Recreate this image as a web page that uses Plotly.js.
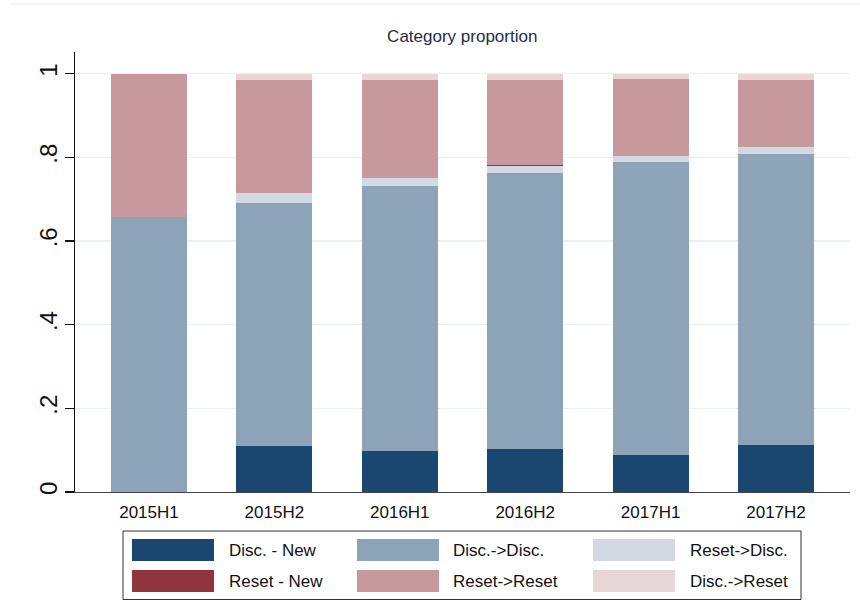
<!DOCTYPE html>
<html>
<head>
<meta charset="utf-8">
<script src="https://cdn.plot.ly/plotly-3.0.1.min.js"></script>
<style>
  html, body { margin: 0; padding: 0; background: #ffffff; }
  #chart { width: 860px; height: 600px; }
</style>
</head>
<body>
<div id="chart"></div>
<script>
// ---- data ----
const periods = ["2015H1", "2015H2", "2016H1", "2016H2", "2017H1", "2017H2"];
const seriesNames = ["Disc. - New", "Disc.->Disc.", "Reset->Disc.", "Reset - New", "Reset->Reset", "Disc.->Reset"];
const discNew    = [0.000, 0.110, 0.098, 0.102, 0.088, 0.112];
const discDisc   = [0.657, 0.581, 0.633, 0.660, 0.701, 0.696];
const resetDisc  = [0.000, 0.024, 0.019, 0.017, 0.014, 0.017];
const resetNew   = [0.000, 0.000, 0.000, 0.002, 0.000, 0.000];
const resetReset = [0.343, 0.270, 0.235, 0.204, 0.184, 0.160];
const discReset  = [0.000, 0.015, 0.015, 0.015, 0.013, 0.015];
const yTickVals  = [0, 0.2, 0.4, 0.6, 0.8, 1];
const yTickText  = ["0", ".2", ".4", ".6", ".8", "1"];

// ---- styles ----
const colors = ["#1a476f", "#8da3b8", "#d2d9e2", "#90353b", "#c8999c", "#e8d6d6"];
const values = [discNew, discDisc, resetDisc, resetNew, resetReset, discReset];
const FONT = "Liberation Sans, Arial, Helvetica, sans-serif";

const traces = values.map((v, i) => ({
  type: "bar",
  name: seriesNames[i],
  x: periods,
  y: v,
  marker: { color: colors[i], line: { width: 0 } },
  hoverinfo: "x+y+name"
}));

// plot area in pixels: x 75..850, y 52..492
const L = 75, R = 850, T = 52, B = 492;
const px = p => (p - L) / (R - L);
const py = p => (B - p) / (B - T);

// custom legend (Stata-style wide swatches), 3 columns x 2 rows
const shapes = [];
const annotations = [];
const colSwatch = [132, 357, 593];
const colText = [227, 451, 688];
const rowTop = [539, 570];
const swW = 82, swH = 22;
// legend frame
shapes.push({ type: "rect", xref: "paper", yref: "paper",
  x0: px(123), x1: px(801), y0: py(531), y1: py(599.5),
  line: { color: "#333333", width: 1 }, fillcolor: "rgba(0,0,0,0)", layer: "above" });
// top faint outer line
shapes.push({ type: "line", xref: "paper", yref: "paper",
  x0: px(11), x1: px(860), y0: py(4), y1: py(4),
  line: { color: "#e6eef0", width: 1.2 } });
seriesNames.forEach((n, i) => {
  const row = Math.floor(i / 3), col = i % 3;
  shapes.push({ type: "rect", xref: "paper", yref: "paper",
    x0: px(colSwatch[col]), x1: px(colSwatch[col] + swW),
    y0: py(rowTop[row]), y1: py(rowTop[row] + swH),
    fillcolor: colors[i], line: { width: 0 } });
  annotations.push({ xref: "paper", yref: "paper",
    x: px(colText[col]), y: py(rowTop[row] + swH / 2),
    xanchor: "left", yanchor: "middle", showarrow: false,
    text: n, font: { family: FONT, size: 17, color: "#111111" } });
});

const layout = {
  width: 860, height: 600,
  margin: { l: L, r: 860 - R, t: T, b: 600 - B, pad: 0 },
  paper_bgcolor: "#ffffff",
  plot_bgcolor: "#ffffff",
  showlegend: false,
  barmode: "stack",
  bargap: 0.394,
  title: { text: "Category proportion", x: 0.5375, xanchor: "center", y: 0.94, yanchor: "middle",
           font: { family: FONT, size: 17, color: "#1f2d4e" } },
  xaxis: {
    type: "category",
    range: [-0.59, 5.59],
    showline: true, linecolor: "#444444", linewidth: 1.3,
    ticks: "", showgrid: false, zeroline: false,
    tickfont: { family: FONT, size: 17, color: "#111111" },
    ticklabelstandoff: 4
  },
  yaxis: {
    range: [0, 1.0516],
    tickvals: yTickVals, ticktext: yTickText,
    tickangle: -90,
    ticks: "outside", ticklen: 9, tickwidth: 1.2, tickcolor: "#111111",
    showline: true, linecolor: "#111111", linewidth: 1.3,
    showgrid: true, gridcolor: "#eaf1f3", gridwidth: 1.2,
    zeroline: false,
    tickfont: { family: FONT, size: 24, color: "#111111" },
    ticklabelstandoff: -2
  },
  shapes: shapes,
  annotations: annotations
};

Plotly.newPlot("chart", traces, layout, { displayModeBar: false, staticPlot: true });
</script>
</body>
</html>
